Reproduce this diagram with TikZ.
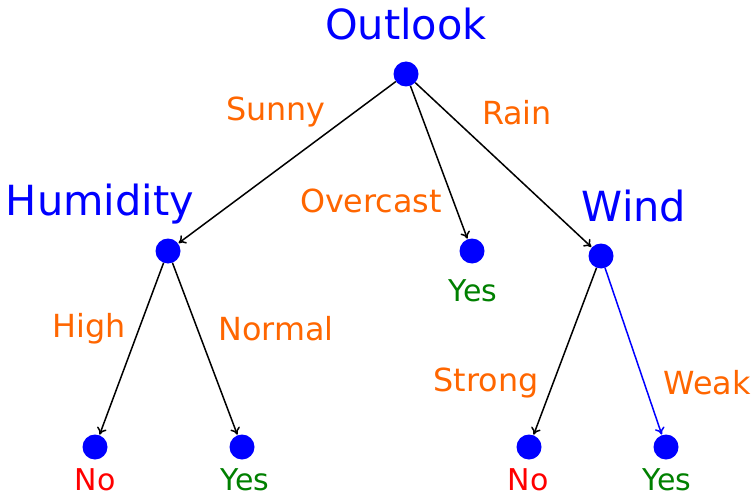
\documentclass[tikz,border=0pt]{standalone}
\usepackage{fontspec}
\setmainfont{DejaVu Sans}
\usetikzlibrary{arrows.meta}
\definecolor{attrblue}{RGB}{0,0,255}
\definecolor{edgeorange}{RGB}{255,102,0}
\definecolor{yesgreen}{RGB}{0,128,0}
\definecolor{nored}{RGB}{255,0,0}
\begin{document}
\begin{tikzpicture}[x=1pt,y=-1pt,
  dot/.style={circle,fill=attrblue,draw=none,minimum size=25pt,inner sep=0pt},
  attr/.style={text=attrblue,font=\fontsize{41.5}{41.5}\selectfont,inner sep=0pt,anchor=base},
  val/.style={text=edgeorange,font=\fontsize{31.8}{31.8}\selectfont,inner sep=0pt,anchor=base},
  yes/.style={text=yesgreen,font=\fontsize{30}{30}\selectfont,inner sep=0pt,anchor=base},
  no/.style={text=nored,font=\fontsize{30}{30}\selectfont,inner sep=0pt,anchor=base},
  edge/.style={draw=black,line width=1.5pt,-{To[length=7pt,width=10pt]},shorten >=0.5pt},
  bedge/.style={edge,draw=attrblue}]
\useasboundingbox (0,0) rectangle (754,497);
\fill[white] (0,0) rectangle (754,497);
% nodes
\node[dot] (root) at (406,74) {};
\node[dot] (hum) at (168,251) {};
\node[dot] (over) at (472,251) {};
\node[dot] (wind) at (601,256) {};
\node[dot] (hno) at (95,447) {};
\node[dot] (hyes) at (242,447) {};
\node[dot] (wno) at (529,447) {};
\node[dot] (wyes) at (666,447) {};
% labels
\node[attr] (lroot) at (406,40) {Outlook};
\node[attr] (lhum) at (100,215) {Humidity};
\node[attr] (lwind) at (634,221) {Wind};
\node[val] (lsunny) at (276,121) {Sunny};
\node[val] (lrain) at (517,125) {Rain};
\node[val] (lover) at (371,212) {Overcast};
\node[val] (lhigh) at (89,337) {High};
\node[val] (lnormal) at (276,340) {Normal};
\node[val] (lstrong) at (486,391) {Strong};
\node[val] (lweak) at (707,394) {Weak};
\node[yes] (tover) at (473,301) {Yes};
\node[no] (thno) at (95,490) {No};
\node[yes] (thyes) at (245,490) {Yes};
\node[no] (twno) at (528,490) {No};
\node[yes] (twyes) at (667,490) {Yes};
% edges
\draw[edge] (root) -- (hum);
\draw[edge] (root) -- (over);
\draw[edge] (root) -- (wind);
\draw[edge] (hum) -- (hno);
\draw[edge] (hum) -- (hyes);
\draw[edge] (wind) -- (wno);
\draw[bedge] (wind) -- (wyes);
\end{tikzpicture}
\end{document}
